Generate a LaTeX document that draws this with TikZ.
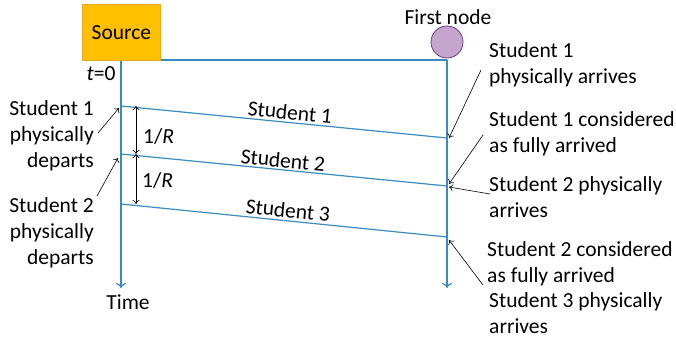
\documentclass[tikz,border=0pt]{standalone}
\usepackage{fontspec}
\setmainfont{Carlito}
\usetikzlibrary{arrows.meta}
\definecolor{tl}{RGB}{58,140,192}
\definecolor{srcfill}{RGB}{255,192,0}
\definecolor{srcdraw}{RGB}{230,170,40}
\definecolor{nodefill}{RGB}{195,165,205}
\definecolor{nodedraw}{RGB}{112,60,130}
\begin{document}
\begin{tikzpicture}[x=1pt,y=-1pt,
  txt/.style={font=\fontsize{21.5}{26}\selectfont, inner sep=0pt},
  timeline/.style={draw=tl, line width=1.2pt, -{To[length=5pt,width=10pt]}},
  msg/.style={draw=tl, line width=1.2pt},
  pointer/.style={draw=black, line width=0.6pt, -{To[length=4pt,width=7pt]}},
  gap/.style={draw=black, line width=0.6pt, {To[length=4pt,width=7pt]}-{To[length=4pt,width=7pt]}}]
\useasboundingbox (0,0) rectangle (676,343);
% endpoints
\coordinate (L0) at (121,60);
\coordinate (R0) at (447,60);
\coordinate (Lend) at (121,288);
\coordinate (Rend) at (447,288);
\coordinate (s1a) at (121,106); \coordinate (s1b) at (447,138);
\coordinate (s2a) at (121,154); \coordinate (s2b) at (447,186);
\coordinate (s3a) at (121,204); \coordinate (s3b) at (447,237);
\coordinate (g1) at (136,106); \coordinate (g2) at (136,154); \coordinate (g3) at (136,204);
% lines
\draw[timeline] (L0) -- (Lend);
\draw[timeline] (R0) -- (Rend);
\draw[msg] (L0) -- (R0);
\draw[msg] (s1a) -- (s1b);
\draw[msg] (s2a) -- (s2b);
\draw[msg] (s3a) -- (s3b);
% source and first node
\node[draw=srcdraw, fill=srcfill, line width=0.8pt, minimum width=78pt, minimum height=56pt, anchor=north west, txt] (src) at (82,4) {Source};
\node[circle, draw=nodedraw, fill=nodefill, line width=0.8pt, minimum size=32pt, inner sep=0pt] (fn) at (447,42) {};
\node[txt] (fnlab) at (448,17) {First node};
\node[txt] (t0) at (101,74) {\textit{t}=0};
\node[txt] (time) at (128,302) {Time};
% student labels on lines
\node[txt, rotate=-5.6] (st1) at (290,112) {Student 1};
\node[txt, rotate=-5.6] (st2) at (283,160) {Student 2};
\node[txt, rotate=-5.6] (st3) at (288,210) {Student 3};
% 1/R
\draw[gap] (g1) -- (g2);
\draw[gap] (g2) -- (g3);
\node[txt, anchor=base west] (r1) at (143,143) {1/\textit{R}};
\node[txt, anchor=base west] (r2) at (142,187) {1/\textit{R}};
% left labels (anchor = baseline of last line)
\node[txt, align=right, anchor=base east] (d1) at (94,167) {Student 1\\physically\\departs};
\node[txt, align=right, anchor=base east] (d2) at (94,264) {Student 2\\physically\\departs};
\coordinate (d1p) at (98,133);
\coordinate (d1q) at (119,108);
\coordinate (d2p) at (97,196);
\coordinate (d2q) at (118,158);
\draw[pointer] (d1p) -- (d1q);
\draw[pointer] (d2p) -- (d2q);
% right labels (anchor = baseline of last line)
\node[txt, align=left, anchor=base west] (a1) at (489,83) {Student 1\\physically arrives};
\node[txt, align=left, anchor=base west] (c1) at (489,152) {Student 1 considered\\as fully arrived};
\node[txt, align=left, anchor=base west] (a2) at (489,217) {Student 2 physically\\arrives};
\node[txt, align=left, anchor=base west] (c2) at (487,282) {Student 2 considered\\as fully arrived};
\node[txt, align=left, anchor=base west] (a3) at (489,333) {Student 3 physically\\arrives};
\coordinate (a1p) at (481,70);  \coordinate (a1q) at (449,138);
\coordinate (c1p) at (483,135); \coordinate (c1q) at (449,184);
\coordinate (a2p) at (490,194); \coordinate (a2q) at (449,187);
\coordinate (c2p) at (483,285); \coordinate (c2q) at (449,240);
\draw[pointer] (a1p) -- (a1q);
\draw[pointer] (c1p) -- (c1q);
\draw[pointer] (a2p) -- (a2q);
\draw[pointer] (c2p) -- (c2q);
\end{tikzpicture}
\end{document}
